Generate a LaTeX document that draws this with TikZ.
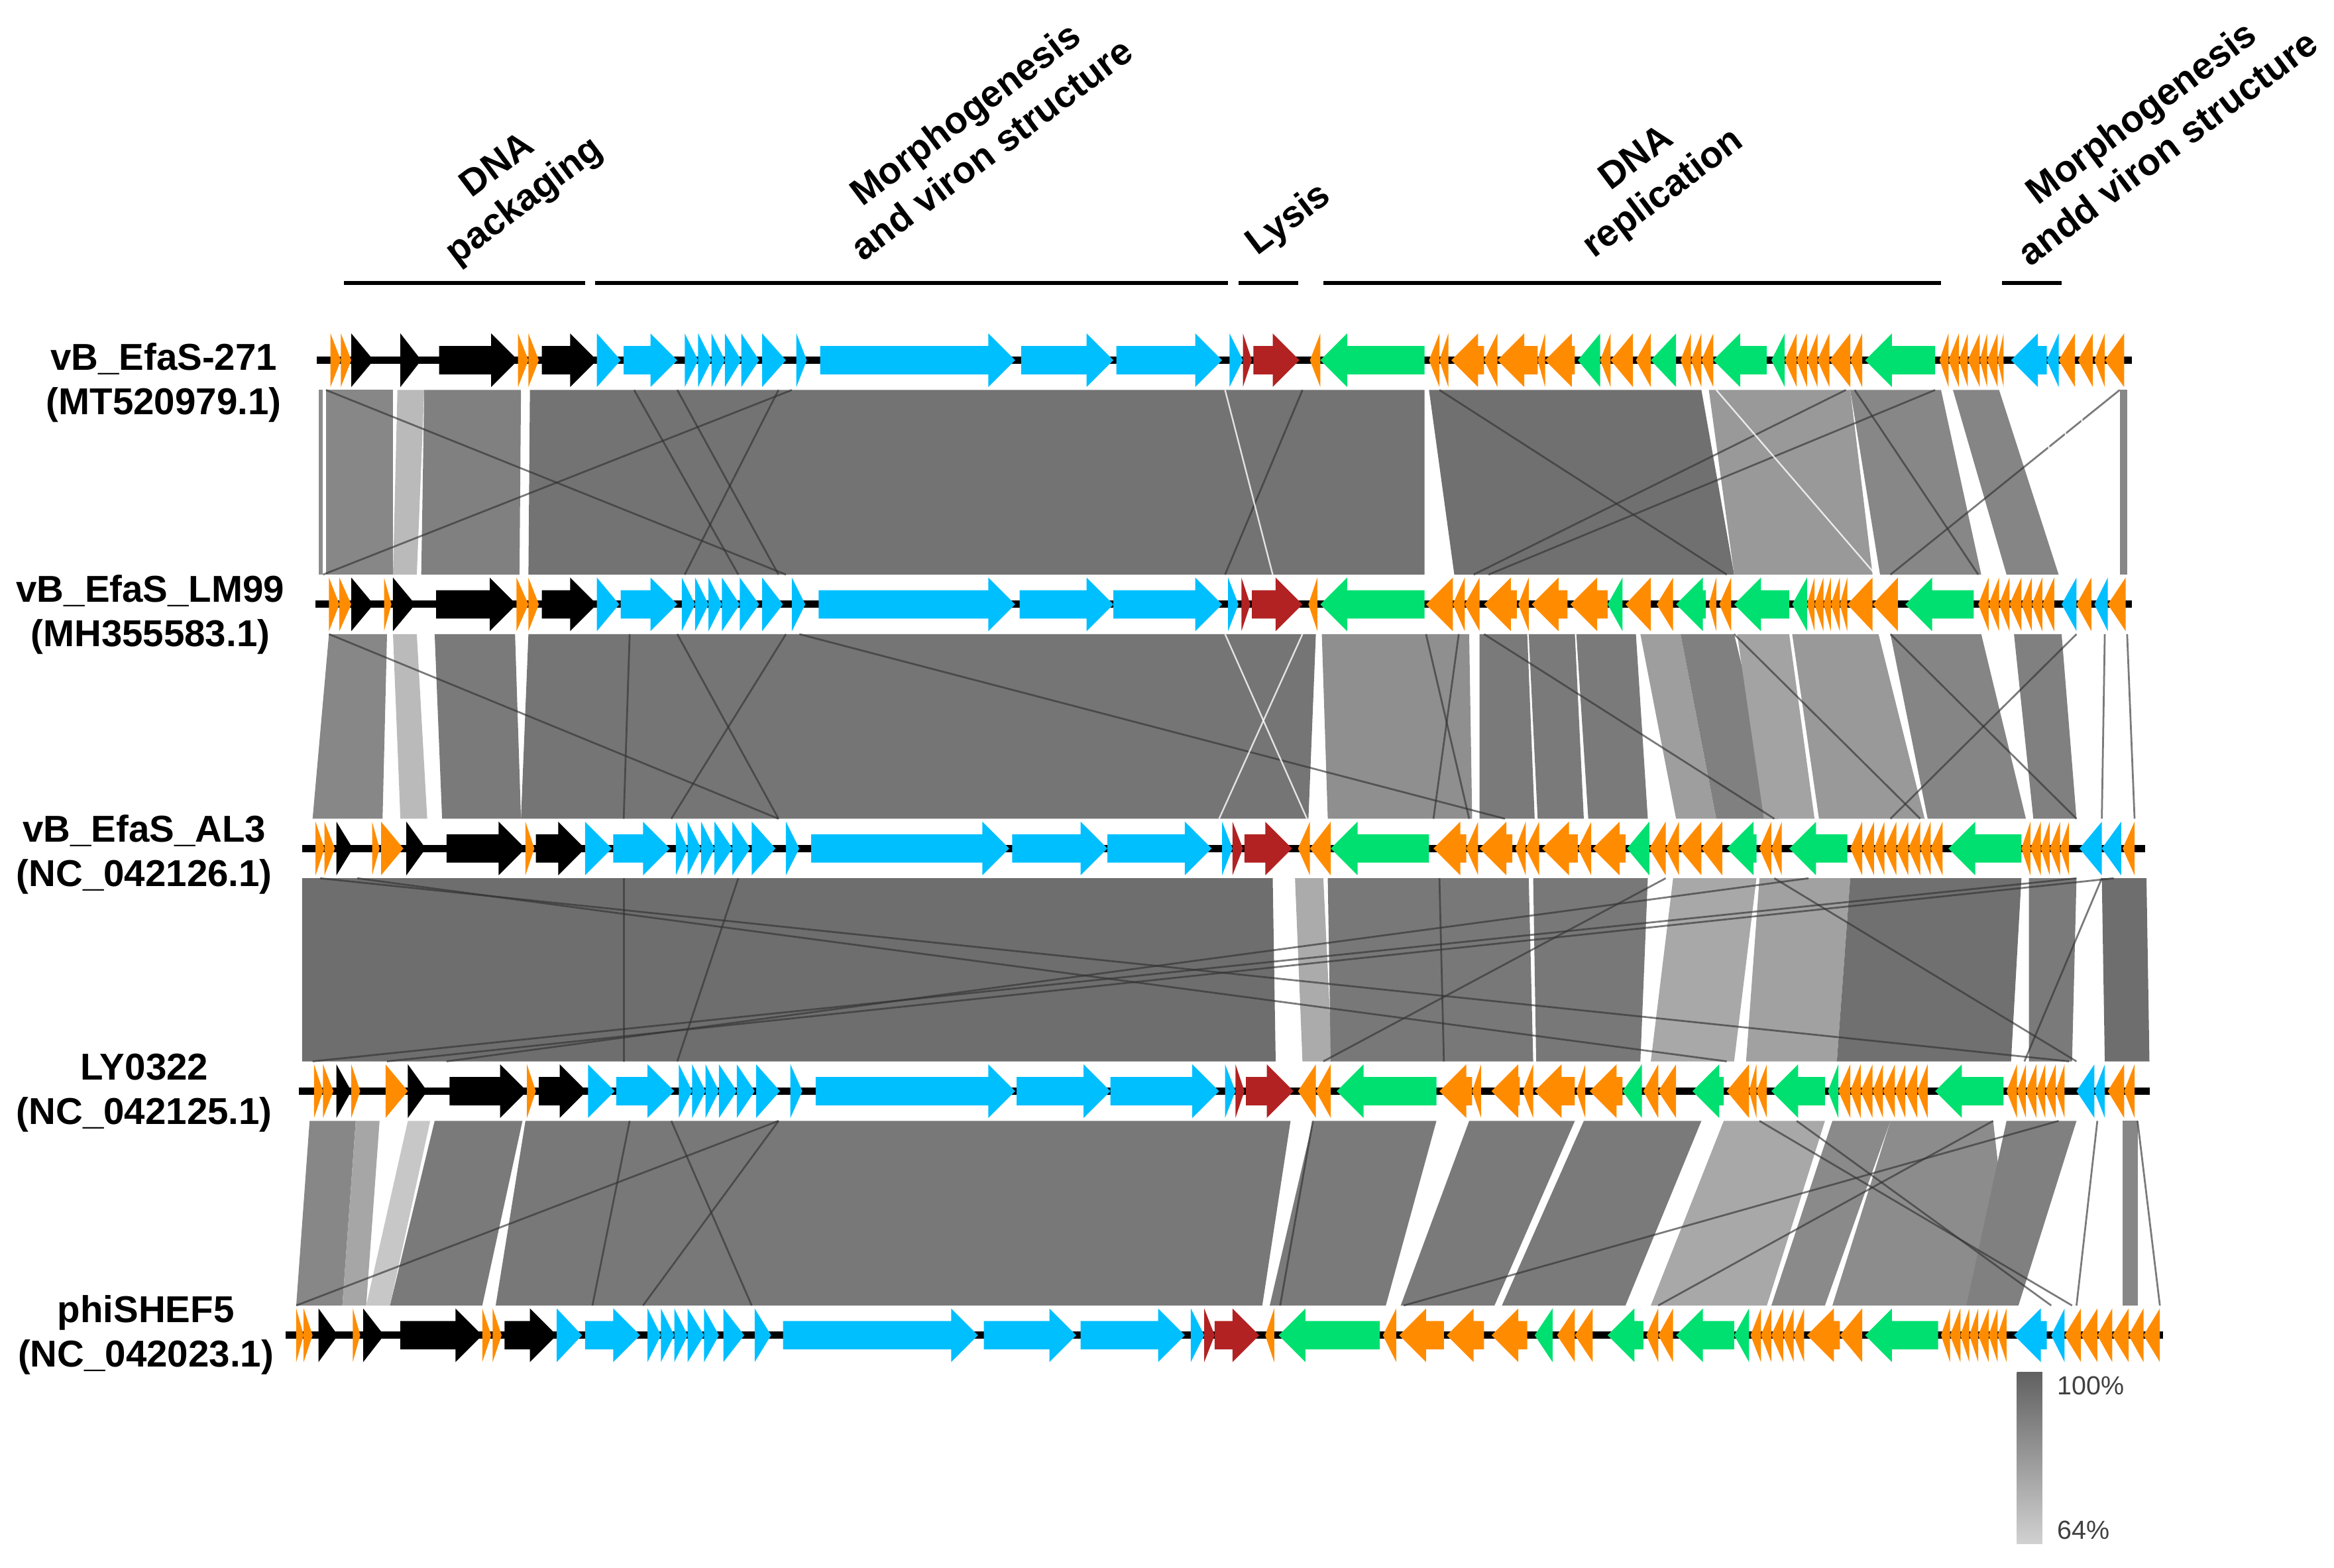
\documentclass[tikz,border=0pt]{standalone}
\usepackage{fontspec}
\setmainfont{Liberation Sans}
\definecolor{orng}{RGB}{255,140,0}
\definecolor{skyb}{RGB}{0,191,255}
\definecolor{lysred}{RGB}{178,34,34}
\definecolor{repgrn}{RGB}{0,224,112}
% gene arrow: start, end, direction (1 or -1), colour
\newcommand{\gene}[4]{%
  \ifnum#3>0
    \pgfmathsetmacro\hx{max(#1,#2-18)}%
    \fill[#4] (#1,-9.5) -- (\hx,-9.5) -- (\hx,-18) -- (#2,0) -- (\hx,18) -- (\hx,9.5) -- (#1,9.5) -- cycle;
  \else
    \pgfmathsetmacro\hx{min(#2,#1+18)}%
    \fill[#4] (#2,-9.5) -- (\hx,-9.5) -- (\hx,-18) -- (#1,0) -- (\hx,18) -- (\hx,9.5) -- (#2,9.5) -- cycle;
  \fi}

\begin{document}
\begin{tikzpicture}[x=0.02cm,y=-0.02cm]
        \tikzset{genome/.style = {line width=2.8pt,black},
          hit/.style = {draw=black!80,line width=0.7pt,opacity=0.65},
          hitlight/.style = {draw=white,line width=0.6pt,opacity=0.8},
          lab/.style = {font=\fontsize{14.3}{17}\selectfont\bfseries,align=center,inner sep=0pt},
          bar/.style = {line width=1.4pt}};
        \useasboundingbox (0,0) rectangle (1568,1053);
        % category labels
        \node[lab,rotate=37] (pack) at (344,124) {DNA\\packaging};
        \node[lab,rotate=37] (morph) at (657,88) {Morphogenesis\\and viron structure};
        \node[lab,rotate=37] (lysis) at (866,148) {Lysis};
        \node[lab,rotate=37] (repl) at (1109,119) {DNA\\replication};
        \node[lab,rotate=37] (morphb) at (1447,87) {Morphogenesis\\andd viron structure};
        \draw[bar] (231,190) -- (393,190) (400,190) -- (825,190) (832,190) -- (872,190)
        (889,190) -- (1304,190) (1345,190) -- (1385,190);
        % genome names
        \node[lab] (g1) at (110,257) {vB\_EfaS-271\\(MT520979.1)};
        \node[lab] (g2) at (101,413) {vB\_EfaS\_LM99\\(MH355583.1)};
        \node[lab] (g3) at (97,574) {vB\_EfaS\_AL3\\(NC\_042126.1)};
        \node[lab] (g4) at (97,734) {LY0322\\(NC\_042125.1)};
        \node[lab] (g5) at (98,897) {phiSHEF5\\(NC\_042023.1)};
        % band 1
        \foreach \p/\q/\r/\s/\g in {214/217/214/217/45, 219/264/219/264/47, 267/285/264/280/27,
          285/350/283/349/50, 356/957/355/957/55, 960/1143/977/1165/56, 1148/1243/1165/1258/40,
          1243/1304/1263/1331/47, 1312/1343/1348/1383/48, 1424/1429/1424/1429/47}
          \fill[black!\g] (\p,262) -- (\q,262) -- (\s,386) -- (\r,386) -- cycle;
        \foreach \p/\q in {219/528, 532/217, 426/496, 455/523, 523/460, 875/823, 967/1160,
          1240/990, 1300/1000, 1424/1270, 1246/1329}
          \draw[hit] (\p,262) -- (\q,386);
        \foreach \p/\q in {823/855, 1153/1260, 1368/1395, 1380/1412, 1395/1417}
          \draw[hitlight] (\p,262) -- (\q,386);
        % band 2
        \foreach \p/\q/\r/\s/\g in {221/260/210/257/47, 264/280/269/287/27, 292/346/297/350/52,
          355/884/350/879/54, 888/987/892/989/44, 994/1026/994/1031/52, 1027/1058/1033/1064/52,
          1059/1099/1067/1107/52, 1102/1129/1126/1153/38, 1129/1165/1153/1195/50,
          1167/1202/1185/1219/36, 1204/1262/1222/1293/40, 1270/1331/1295/1361/48,
          1353/1385/1366/1395/50}
          \fill[black!\g] (\p,426) -- (\q,426) -- (\s,550) -- (\r,550) -- cycle;
        \foreach \p/\q in {221/523, 537/1011, 423/419, 455/523, 528/451, 958/987, 980/963,
          997/1192, 1165/1290, 1395/1270, 1270/1395, 1414/1412, 1429/1434}
          \draw[hit] (\p,426) -- (\q,550);
        \foreach \p/\q in {823/878, 875/819}
          \draw[hitlight] (\p,426) -- (\q,550);
        % band 3
        \foreach \p/\q/\r/\s/\g in {203/855/203/857/57, 870/889/875/895/33, 892/1027/894/1030/53,
          1030/1107/1032/1102/53, 1124/1180/1109/1165/34, 1182/1243/1173/1234/37,
          1243/1358/1234/1351/56, 1363/1395/1363/1392/52, 1412/1442/1414/1444/57}
          \fill[black!\g] (\p,590) -- (\q,590) -- (\s,713) -- (\r,713) -- cycle;
        \foreach \p/\q in {215/1390, 240/1160, 1395/210, 1420/260, 1215/300, 419/419, 496/455,
          1192/1395, 1412/1360, 1119/889, 967/970}
          \draw[hit] (\p,590) -- (\q,713);
        % band 4
        \foreach \p/\q/\r/\s/\g in {208/239/199/230/47, 239/255/230/246/35, 274/289/246/262/22,
          292/351/262/324/52, 353/867/333/848/53, 882/965/853/931/52, 987/1058/941/1004/52,
          1064/1143/1009/1092/52, 1158/1226/1109/1187/34, 1231/1270/1190/1226/46,
          1270/1339/1231/1353/45, 1348/1395/1321/1356/50, 1426/1436/1426/1436/47}
          \fill[black!\g] (\p,753) -- (\q,753) -- (\s,877) -- (\r,877) -- cycle;
        \foreach \p/\q in {523/199, 423/398, 451/505, 523/432, 1383/943, 1339/1114, 1182/1392,
          1207/1378, 1436/1451, 1409/1395, 882/860}
          \draw[hit] (\p,753) -- (\q,877);
        % genome 1
        \begin{scope}[shift={(0,242)}]
        \draw[genome] (213,0) -- (1432,0);
        \foreach \a/\b/\d/\c in {222/229/1/orng, 229/236/1/orng, 236/251/1/black, 269/283/1/black,
          295/348/1/black, 348/355/1/orng, 355/362/1/orng, 364/401/1/black, 401/417/1/skyb,
          419/455/1/skyb, 460/469/1/skyb, 469/478/1/skyb, 478/487/1/skyb, 487/498/1/skyb,
          498/510/1/skyb, 512/528/1/skyb, 535/542/1/skyb, 551/682/1/skyb, 686/748/1/skyb,
          750/821/1/skyb, 826/835/1/skyb, 835/841/1/lysred, 842/873/1/lysred, 880/887/-1/orng,
          887/957/-1/repgrn, 960/967/-1/orng, 967/973/-1/orng, 975/997/-1/orng, 997/1006/-1/orng,
          1006/1033/-1/orng, 1033/1038/-1/orng, 1038/1058/-1/orng, 1060/1075/-1/repgrn,
          1075/1082/-1/orng, 1082/1097/-1/orng, 1099/1109/-1/orng, 1109/1126/-1/repgrn,
          1129/1136/-1/orng, 1136/1143/-1/orng, 1143/1151/-1/orng, 1151/1187/-1/repgrn,
          1190/1199/-1/repgrn, 1199/1207/-1/orng, 1207/1214/-1/orng, 1214/1221/-1/orng,
          1221/1229/-1/orng, 1229/1243/-1/orng, 1243/1251/-1/orng, 1253/1300/-1/repgrn,
          1303/1309/-1/orng, 1309/1316/-1/orng, 1316/1322/-1/orng, 1322/1330/-1/orng,
          1330/1335/-1/orng, 1335/1342/-1/orng, 1342/1346/-1/orng, 1351/1375/-1/skyb,
          1375/1383/-1/skyb, 1383/1394/-1/orng, 1396/1406/-1/orng, 1407/1414/-1/orng,
          1414/1427/-1/orng}
          {\gene{\a}{\b}{\d}{\c}}
        \end{scope}
        % genome 2
        \begin{scope}[shift={(0,406)}]
        \draw[genome] (212,0) -- (1432,0);
        \foreach \a/\b/\d/\c in {221/228/1/orng, 228/236/1/orng, 236/251/1/black, 258/263/1/orng,
          264/279/1/black, 293/347/1/black, 347/355/1/orng, 355/362/1/orng, 364/401/1/black,
          401/416/1/skyb, 417/455/1/skyb, 458/467/1/skyb, 467/476/1/skyb, 476/485/1/skyb,
          485/497/1/skyb, 497/510/1/skyb, 512/526/1/skyb, 532/541/1/skyb, 550/682/1/skyb,
          685/748/1/skyb, 748/821/1/skyb, 825/832/1/skyb, 834/840/1/lysred, 841/875/1/lysred,
          879/885/-1/orng, 887/957/-1/repgrn, 958/976/-1/orng, 976/984/-1/orng, 984/994/-1/orng,
          997/1019/-1/orng, 1020/1027/-1/orng, 1029/1053/-1/orng, 1055/1080/-1/orng,
          1080/1090/-1/repgrn, 1092/1109/-1/orng, 1113/1124/-1/orng, 1126/1146/-1/repgrn,
          1148/1153/-1/orng, 1155/1163/-1/orng, 1165/1202/-1/repgrn, 1204/1214/-1/repgrn,
          1214/1219/-1/orng, 1219/1225/-1/orng, 1225/1230/-1/orng, 1230/1236/-1/orng,
          1236/1241/-1/orng, 1241/1258/-1/orng, 1258/1275/-1/orng, 1280/1326/-1/repgrn,
          1329/1336/-1/orng, 1336/1343/-1/orng, 1343/1350/-1/orng, 1350/1358/-1/orng,
          1358/1365/-1/orng, 1365/1372/-1/orng, 1372/1380/-1/orng, 1385/1395/-1/skyb,
          1395/1405/-1/orng, 1407/1416/-1/skyb, 1416/1428/-1/orng}
          {\gene{\a}{\b}{\d}{\c}}
        \end{scope}
        % genome 3
        \begin{scope}[shift={(0,570)}]
        \draw[genome] (203,0) -- (1441,0);
        \foreach \a/\b/\d/\c in {212/218/1/orng, 218/225/1/orng, 226/237/1/black, 250/255/1/orng,
          256/271/1/orng, 273/286/1/black, 300/353/1/black, 353/359/1/orng, 360/393/1/black,
          393/411/1/skyb, 412/450/1/skyb, 454/462/1/skyb, 462/471/1/skyb, 471/480/1/skyb,
          480/492/1/skyb, 492/504/1/skyb, 505/521/1/skyb, 528/537/1/skyb, 545/678/1/skyb,
          680/744/1/skyb, 744/814/1/skyb, 821/828/1/skyb, 828/835/1/lysred, 836/868/1/lysred,
          872/880/-1/orng, 880/894/-1/orng, 894/960/-1/repgrn, 963/985/-1/orng, 985/993/-1/orng,
          994/1016/-1/orng, 1018/1025/-1/orng, 1025/1034/-1/orng, 1036/1060/-1/orng,
          1060/1069/-1/orng, 1070/1092/-1/orng, 1093/1108/-1/repgrn, 1108/1119/-1/orng,
          1119/1128/-1/orng, 1128/1143/-1/orng, 1143/1157/-1/orng, 1160/1180/-1/repgrn,
          1182/1190/-1/orng, 1190/1197/-1/orng, 1202/1241/-1/repgrn, 1243/1251/-1/orng,
          1251/1259/-1/orng, 1259/1266/-1/orng, 1266/1274/-1/orng, 1274/1282/-1/orng,
          1282/1290/-1/orng, 1290/1297/-1/orng, 1297/1305/-1/orng, 1309/1358/-1/repgrn,
          1358/1364/-1/orng, 1364/1371/-1/orng, 1371/1377/-1/orng, 1377/1384/-1/orng,
          1384/1390/-1/orng, 1397/1412/-1/skyb, 1412/1425/-1/skyb, 1426/1434/-1/orng}
          {\gene{\a}{\b}{\d}{\c}}
        \end{scope}
        % genome 4
        \begin{scope}[shift={(0,733)}]
        \draw[genome] (201,0) -- (1444,0);
        \foreach \a/\b/\d/\c in {211/217/1/orng, 217/224/1/orng, 226/236/1/black, 236/242/1/orng,
          259/274/1/orng, 274/287/1/black, 302/354/1/black, 354/360/1/orng, 362/394/1/black,
          395/413/1/skyb, 414/453/1/skyb, 456/465/1/skyb, 465/474/1/skyb, 474/483/1/skyb,
          483/495/1/skyb, 495/507/1/skyb, 508/524/1/skyb, 531/539/1/skyb, 548/682/1/skyb,
          683/746/1/skyb, 746/819/1/skyb, 823/830/1/skyb, 830/836/1/lysred, 837/869/1/lysred,
          872/884/-1/orng, 884/894/-1/orng, 898/965/-1/repgrn, 967/989/-1/orng, 989/995/-1/orng,
          1002/1021/-1/orng, 1023/1030/-1/orng, 1031/1058/-1/orng, 1059/1065/-1/orng,
          1068/1090/-1/orng, 1090/1103/-1/repgrn, 1104/1114/-1/orng, 1114/1126/-1/orng,
          1137/1158/-1/repgrn, 1160/1175/-1/orng, 1175/1180/-1/orng, 1180/1187/-1/orng,
          1190/1226/-1/repgrn, 1228/1235/-1/repgrn, 1235/1243/-1/orng, 1243/1250/-1/orng,
          1250/1258/-1/orng, 1258/1265/-1/orng, 1265/1273/-1/orng, 1273/1280/-1/orng,
          1280/1288/-1/orng, 1288/1295/-1/orng, 1300/1346/-1/repgrn, 1348/1355/-1/orng,
          1355/1361/-1/orng, 1361/1368/-1/orng, 1368/1374/-1/orng, 1374/1381/-1/orng,
          1381/1387/-1/orng, 1395/1407/-1/skyb, 1407/1414/-1/skyb, 1416/1427/-1/orng,
          1427/1434/-1/orng}
          {\gene{\a}{\b}{\d}{\c}}
        \end{scope}
        % genome 5
        \begin{scope}[shift={(0,897)}]
        \draw[genome] (192,0) -- (1453,0);
        \foreach \a/\b/\d/\c in {199/204/1/orng, 204/210/1/orng, 214/227/1/black, 237/242/1/orng,
          244/258/1/black, 269/324/1/black, 324/330/1/orng, 331/337/1/orng, 339/374/1/black,
          374/391/1/skyb, 393/430/1/skyb, 435/444/1/skyb, 444/453/1/skyb, 453/462/1/skyb,
          462/473/1/skyb, 473/483/1/skyb, 486/500/1/skyb, 507/518/1/skyb, 526/657/1/skyb,
          661/723/1/skyb, 726/796/1/skyb, 800/809/1/skyb, 809/816/1/lysred, 816/846/1/lysred,
          850/856/-1/orng, 859/927/-1/repgrn, 929/938/-1/orng, 940/970/-1/orng, 972/997/-1/orng,
          1002/1026/-1/orng, 1031/1043/-1/repgrn, 1046/1058/-1/orng, 1058/1070/-1/orng,
          1080/1104/-1/repgrn, 1106/1114/-1/orng, 1114/1124/-1/orng, 1126/1165/-1/repgrn,
          1165/1175/-1/repgrn, 1176/1183/-1/orng, 1183/1190/-1/orng, 1190/1198/-1/orng,
          1198/1205/-1/orng, 1205/1212/-1/orng, 1214/1236/-1/orng, 1236/1251/-1/orng,
          1253/1302/-1/repgrn, 1304/1310/-1/orng, 1310/1317/-1/orng, 1317/1323/-1/orng,
          1323/1329/-1/orng, 1329/1336/-1/orng, 1336/1342/-1/orng, 1342/1348/-1/orng,
          1353/1375/-1/skyb, 1378/1387/-1/skyb, 1387/1398/-1/orng, 1398/1409/-1/orng,
          1409/1419/-1/orng, 1419/1430/-1/orng, 1430/1440/-1/orng, 1440/1451/-1/orng}
          {\gene{\a}{\b}{\d}{\c}}
        \end{scope}
        % identity scale
        \shade[top color=black!62,bottom color=black!18] (1355,922) rectangle (1372,1037);
        \node[anchor=west,font=\fontsize{10}{12}\selectfont,text=black!75] (hi) at (1376,931) {100\%};
        \node[anchor=west,font=\fontsize{10}{12}\selectfont,text=black!75] (lo) at (1376,1028) {64\%};
    \end{tikzpicture}
\end{document}
